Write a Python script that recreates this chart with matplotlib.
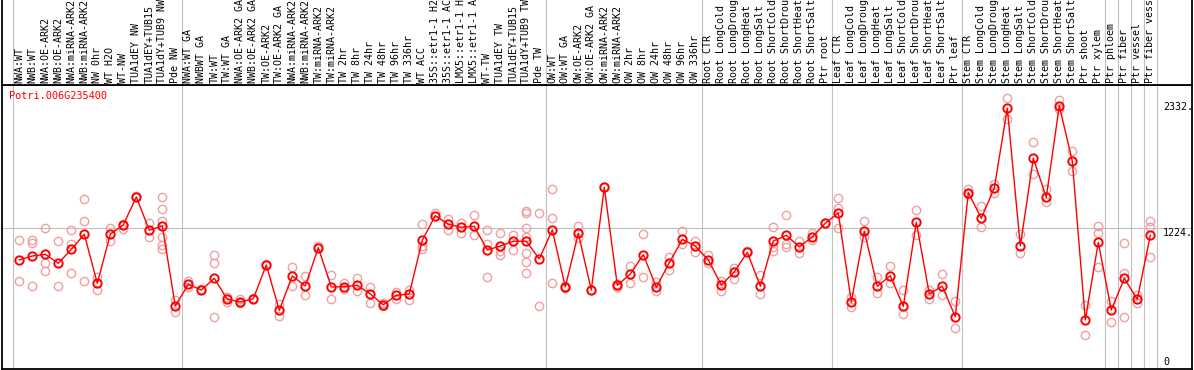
import matplotlib
matplotlib.use("Agg")
import matplotlib.pyplot as plt
import matplotlib.transforms as mtransforms

gene = "Potri.006G235400"

labels = ["NWA:WT", "NWB:WT", "NWA:OE-ARK2", "NWB:OE-ARK2", "NWA:miRNA-ARK2",
          "NWB:miRNA-ARK2", "NW 0hr", "WT H2O", "WT-NW", "TUA1dEY NW",
          "TUA1dEY+TUB15", "TUA1dY+TUB9 NW", "Pde NW",
          "NWA:WT GA", "NWBWT GA", "TW:WT", "TW:WT GA", "NWA:OE-ARK2 GA",
          "NWB:OE-ARK2 GA", "TW:OE-ARK2", "TW:OE-ARK2 GA", "NWA:miRNA-ARK2",
          "NWB:miRNA-ARK2", "TW:miRNA-ARK2", "TW:miRNA-ARK2", "TW 2hr", "TW 8hr",
          "TW 24hr", "TW 48hr", "TW 96hr", "TW 336hr", "WT ACC",
          "35S::etr1-1 H2", "35S::etr1-1 AC", "LMX5::etr1-1 H", "LMX5::etr1-1 A",
          "WT-TW", "TUA1dEY TW", "TUA1dEY+TUB15", "TUA1dY+TUB9 TW", "Pde TW",
          "OW:WT", "OW:WT GA", "OW:OE-ARK2", "OW:OE-ARK2 GA", "OW:miRNA-ARK2",
          "OW:miRNA-ARK2", "OW 2hr", "OW 8hr", "OW 24hr", "OW 48hr", "OW 96hr",
          "OW 336hr",
          "Root CTR", "Root LongCold", "Root LongDroug", "Root LongHeat",
          "Root LongSalt", "Root ShortCold", "Root ShortDrou", "Root ShortHeat",
          "Root ShortSalt", "Ptr root",
          "Leaf CTR", "Leaf LongCold", "Leaf LongDroug", "Leaf LongHeat",
          "Leaf LongSalt", "Leaf ShortCold", "Leaf ShortDrou", "Leaf ShortHeat",
          "Leaf ShortSalt", "Ptr leaf",
          "Stem CTR", "Stem LongCold", "Stem LongDroug", "Stem LongHeat",
          "Stem LongSalt", "Stem ShortCold", "Stem ShortDrou", "Stem ShortHeat",
          "Stem ShortSalt", "Ptr shoot", "Ptr xylem",
          "Ptr phloem", "Ptr fiber", "Ptr vessel", "Ptr fiber vess"]

means = [941, 976, 991, 912, 1035, 1168, 735, 1168, 1250, 1497, 1203, 1241, 535,
         726, 676, 779, 594, 570, 599, 897, 497, 800, 711, 1050, 703, 705, 718,
         641, 546, 629, 641, 1115, 1332, 1256, 1229, 1238, 1029, 1064, 1106, 1106,
         950,
         1206, 703, 1176, 676, 1582, 718, 817, 988, 700, 917, 1123, 1064,
         941, 720, 835, 1009, 709, 1108, 1159, 1056, 1144, 1265,
         1356, 570, 1194, 709, 802, 532, 1274, 641, 709, 440,
         1535, 1309, 1576, 2280, 1064, 1838, 1494, 2303, 1812, 411, 1097,
         500, 779, 594, 1159]

reps = [[1115, 755], [1115, 1094, 711], [1223, 912, 841], [1106, 711],
        [1206, 1079, 826], [1479, 1285, 755], [788, 673], [1226, 1106],
        [1256, 1214], [1506], [1270, 1146],
        [1497, 1388, 1288, 1146, 1076, 1035], [588, 485],
        [758, 705], [685], [985, 912, 435], [617, 573], [594, 559], [605],
        [906], [555, 447], [879, 711], [800, 632], [1060], [808, 597],
        [735, 682], [779, 670], [705, 559], [560, 535], [661, 594], [676, 588],
        [1256, 1064, 1035], [1358], [1305, 1206], [1265, 1182], [1335, 1164],
        [1206, 1082, 788], [1176, 1020, 985], [1161, 1029],
        [1373, 1353, 1223, 1146, 1005, 921, 826], [1353, 535],
        [1567, 1309, 735], [710, 695], [1241, 1132], [676],
        [1582], [730, 705], [891, 735], [1170, 793], [747, 667], [970, 853],
        [1197, 1082], [1108, 1009],
        [985, 917], [753, 667], [873, 770], [1020], [806, 638],
        [1229, 1058, 1023], [1341, 1082, 1058], [1108, 1000], [1176, 1117],
        [1265],
        [1488, 1400, 1221], [612, 529], [1285, 1146], [793, 647], [885, 741],
        [676, 462], [1380, 1159], [676, 594], [815, 632], [579, 338],
        [1567, 1521], [1417, 1229], [1609, 1530], [2368, 2183], [1168, 1005],
        [1980, 1700], [1567, 1450], [2353, 2271], [1900, 1726], [544, 276],
        [1241, 1176, 882],
        [579, 391], [1088, 829, 435], [632, 559], [1285, 1229, 967]]

group_edges = [-0.5, 12.5, 40.5, 52.5, 62.5, 72.5, 83.5, 84.5, 85.5, 86.5, 87.5]
yticks = [2332, 1224, 0]

mono = "DejaVu Sans Mono"
W, H = 1194, 370
fig = plt.figure(figsize=(W / 100, H / 100), dpi=100)

x0, x1 = 1.5, 1192.0
xmin = -(19.3 - x0) / 13.0
xmax = xmin + (x1 - x0) / 13.0

top_px, bot_px = 85.0, 368.7
ax = fig.add_axes([x0 / W, (H - bot_px) / H, (x1 - x0) / W, (bot_px - top_px) / H])
axl = fig.add_axes([x0 / W, (H - top_px) / H, (x1 - x0) / W, top_px / H])

for a in (ax, axl):
    a.set_xlim(xmin, xmax)
    a.set_xticks([])
    a.set_yticks([])
    for s in a.spines.values():
        s.set_linewidth(1.3)
        s.set_color("black")
    for e in group_edges:
        a.axvline(e, color="#c0c0c0", lw=0.8, zorder=0)
axl.spines["top"].set_visible(False)
axl.set_ylim(0, 1)

ax.set_ylim(-18.5, 2485)
ax.axhline(1224, color="#c0c0c0", lw=0.8, zorder=0)

xs = list(range(len(means)))
for i, r in enumerate(reps):
    ax.plot([i] * len(r), r, "o", ms=6, mfc="none", mec="#f0a0a0", mew=1.0,
            zorder=2)
ax.plot(xs, means, "-", color="red", lw=1.0, zorder=3)
ax.plot(xs, means, "o", ms=6, mfc="none", mec="red", mew=1.4, zorder=4)

for i, lab in enumerate(labels):
    axl.text(i, 0.025, lab, rotation=90, ha="center", va="bottom",
             fontsize=7.2, family=mono, color="black")

tr = mtransforms.blended_transform_factory(ax.transAxes, ax.transData)
for v in yticks:
    txt = "0" if v == 0 else str(v) + "."
    ax.text((1163 - x0) / (x1 - x0), v, txt, transform=tr,
            va="bottom" if v == 0 else "top", ha="left",
            fontsize=7.2, family=mono, color="black")

ax.text((9.3 - x0) / (x1 - x0), 1 - 6.0 / (bot_px - top_px), gene,
        transform=ax.transAxes, ha="left", va="top", fontsize=7.4,
        family=mono, color="red")

fig.savefig("out.png", dpi=100)
